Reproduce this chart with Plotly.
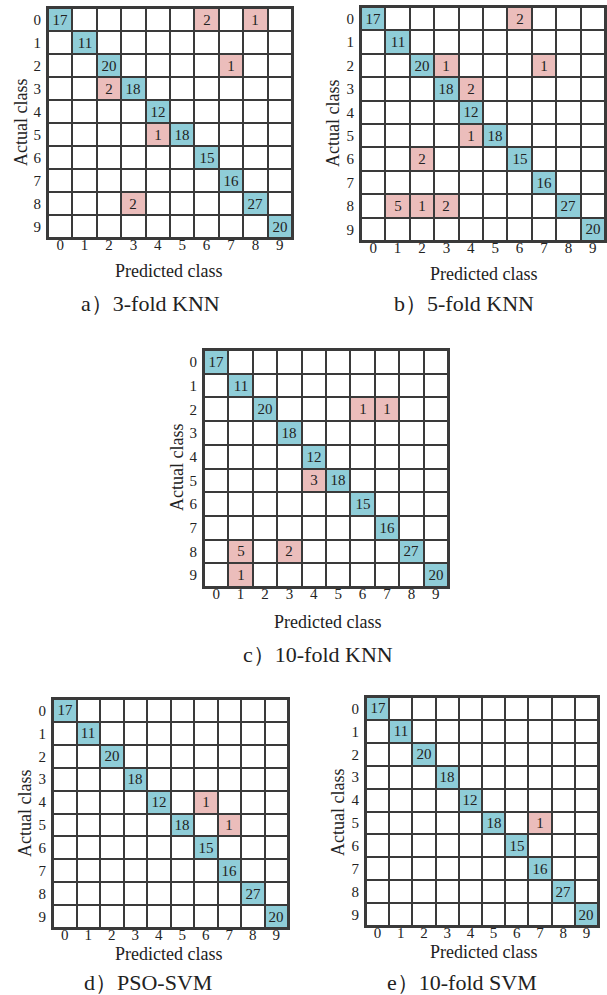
import plotly.graph_objects as go

W, H = 607, 995
classes = [str(i) for i in range(10)]


def diag_matrix(diag, off):
    m = [[0] * 10 for _ in range(10)]
    for i, v in enumerate(diag):
        m[i][i] = v
    for (r, c, v) in off:
        m[r][c] = v
    return m


diag_counts = [17, 11, 20, 18, 12, 18, 15, 16, 27, 20]

# off-diagonal errors: (actual, predicted, count)
off_3fold_knn = [(0, 6, 2), (0, 8, 1), (2, 7, 1), (3, 2, 2), (5, 4, 1), (8, 3, 2)]
off_5fold_knn = [(0, 6, 2), (2, 3, 1), (2, 7, 1), (3, 4, 2), (5, 4, 1), (6, 2, 2),
                 (8, 1, 5), (8, 2, 1), (8, 3, 2)]
off_10fold_knn = [(2, 6, 1), (2, 7, 1), (5, 4, 3), (8, 1, 5), (8, 3, 2), (9, 1, 1)]
off_pso_svm = [(4, 6, 1), (5, 7, 1)]
off_10fold_svm = [(5, 7, 1)]

panel_names = ["a）3-fold KNN", "b）5-fold KNN", "c）10-fold KNN", "d）PSO-SVM", "e）10-fold SVM"]
panel_data = [off_3fold_knn, off_5fold_knn, off_10fold_knn, off_pso_svm, off_10fold_svm]

# window-pixel geometry: grid box (x0, x1, y0, y1), x-label centre, caption centre, y-label centre
geom = [
    dict(box=(48, 292, 8, 238), xl=(168, 271), cap=(150, 303), yl=(21, 123)),
    dict(box=(361, 605, 7, 241), xl=(483, 274), cap=(464, 303), yl=(333, 123)),
    dict(box=(204, 448, 350, 587), xl=(327, 622), cap=(318, 654), yl=(177, 468)),
    dict(box=(53, 288, 699, 928), xl=(168, 954), cap=(148, 982), yl=(25, 813)),
    dict(box=(366, 598, 697, 926), xl=(483, 952), cap=(462, 982), yl=(338, 813)),
]


def px(x):
    return x / W


def py(y):
    return 1 - y / H


BLUE = "#8fcdd8"
RED = "#ebbdbb"
GRID = "#3a3a3a"
FONT = "Liberation Serif"

fig = go.Figure()
annotations = []
for k, (name, off, g) in enumerate(zip(panel_names, panel_data, geom)):
    m = diag_matrix(diag_counts, off)
    cat = [[0 if m[i][j] == 0 else (1 if i == j else 2) for j in range(10)] for i in range(10)]
    txt = [["" if m[i][j] == 0 else str(m[i][j]) for j in range(10)] for i in range(10)]
    ax = "" if k == 0 else str(k + 1)
    fig.add_trace(go.Heatmap(
        z=cat, x=list(range(10)), y=list(range(10)), text=txt, texttemplate="%{text}",
        textfont=dict(family=FONT, size=15, color="#222"),
        colorscale=[[0, "white"], [0.333, "white"], [0.334, BLUE], [0.666, BLUE], [0.667, RED], [1, RED]],
        zmin=0, zmax=2, showscale=False, xgap=2, ygap=2, hoverinfo="skip",
        xaxis="x" + ax, yaxis="y" + ax,
    ))
    x0, x1, y0, y1 = g["box"]
    common = dict(showgrid=False, zeroline=False, showline=True, mirror=True,
                  linecolor=GRID, linewidth=2, ticks="",
                  tickfont=dict(family=FONT, size=15, color="#222"),
                  tickvals=list(range(10)), ticktext=classes, fixedrange=True)
    fig.update_layout(**{
        "xaxis" + ax: dict(domain=[px(x0), px(x1)], range=[-0.5, 9.5], anchor="y" + ax,
                           ticklabelstandoff=-8, **common),
        "yaxis" + ax: dict(domain=[py(y1), py(y0)], range=[9.5, -0.5], anchor="x" + ax,
                           ticklabelstandoff=2, **common),
    })
    annotations.append(dict(text="Predicted class", x=px(g["xl"][0]), y=py(g["xl"][1]),
                            xref="paper", yref="paper", showarrow=False,
                            font=dict(family=FONT, size=18, color="#222"),
                            xanchor="center", yanchor="middle"))
    annotations.append(dict(text=name, x=px(g["cap"][0]), y=py(g["cap"][1]),
                            xref="paper", yref="paper", showarrow=False,
                            font=dict(family=FONT, size=22, color="#222"),
                            xanchor="center", yanchor="middle"))
    annotations.append(dict(text="Actual class", x=px(g["yl"][0]), y=py(g["yl"][1]),
                            xref="paper", yref="paper", showarrow=False, textangle=-90,
                            font=dict(family=FONT, size=18, color="#222"),
                            xanchor="center", yanchor="middle"))

fig.update_layout(width=W, height=H, margin=dict(l=0, r=0, t=0, b=0),
                  paper_bgcolor="white", plot_bgcolor=GRID, annotations=annotations,
                  showlegend=False)
fig.write_html("out.html", config={"displayModeBar": False},
               post_script="document.body.style.margin='0';document.body.style.overflow='hidden';")
